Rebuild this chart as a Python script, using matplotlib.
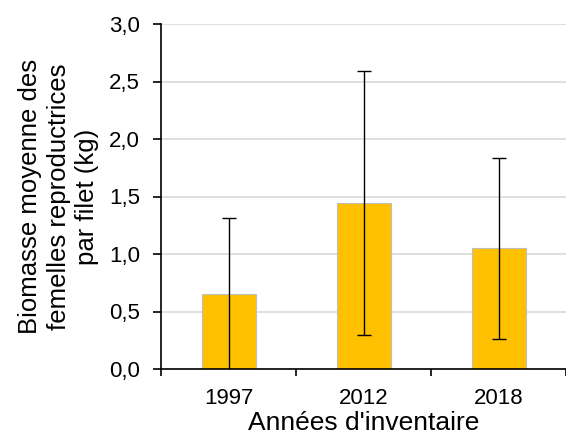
import matplotlib.pyplot as plt
import numpy as np

years = ["1997", "2012", "2018"]
biomass = [0.65, 1.445, 1.05]
err = [0.665, 1.15, 0.785]
yticks = [0.0, 0.5, 1.0, 1.5, 2.0, 2.5, 3.0]

plt.rcParams['font.family'] = ['Liberation Sans', 'DejaVu Sans']

fig = plt.figure(figsize=(5.66, 4.37), dpi=100)
ax = fig.add_axes([161 / 566, 1 - 369 / 437, (566 - 161) / 566, 345 / 437])

x = np.arange(len(years))
ax.bar(x, biomass, width=0.4, color="#FFC000", edgecolor="#BFBFBF", linewidth=0.8, zorder=2)
ax.errorbar(x, biomass, yerr=err, fmt="none", ecolor="black", elinewidth=1,
            capsize=5, capthick=1, zorder=3)

ax.set_ylim(0, 3.0)
ax.set_xlim(-0.5, 2.48)
ax.set_yticks(yticks)
ax.set_yticklabels([f"{v:.1f}".replace(".", ",") for v in yticks], fontsize=16)
ax.yaxis.grid(True, color="#D9D9D9", linewidth=1.2, zorder=0)
ax.set_axisbelow(True)

# ticks between categories, labels at centres
ax.set_xticks([-0.5, 0.5, 1.5, 2.5])
ax.set_xticklabels([])
ax.set_xticks(x, minor=True)
ax.set_xticklabels(years, minor=True, fontsize=16)
ax.tick_params(axis="x", which="minor", length=0, pad=14)
ax.tick_params(axis="x", which="major", length=5, width=1.2, direction="out")
ax.tick_params(axis="y", length=6, width=1.2, direction="out", pad=9)

for s in ["top", "right"]:
    ax.spines[s].set_visible(False)
ax.spines["left"].set_linewidth(1.2)
ax.spines["bottom"].set_linewidth(1.2)

ax.set_xlabel("Années d'inventaire", fontsize=19, labelpad=1)
ax.set_ylabel("Biomasse moyenne des\nfemelles reproductrices\npar filet (kg)",
              fontsize=18.5, linespacing=1.25, labelpad=7)

fig.savefig("out.png", dpi=100)
